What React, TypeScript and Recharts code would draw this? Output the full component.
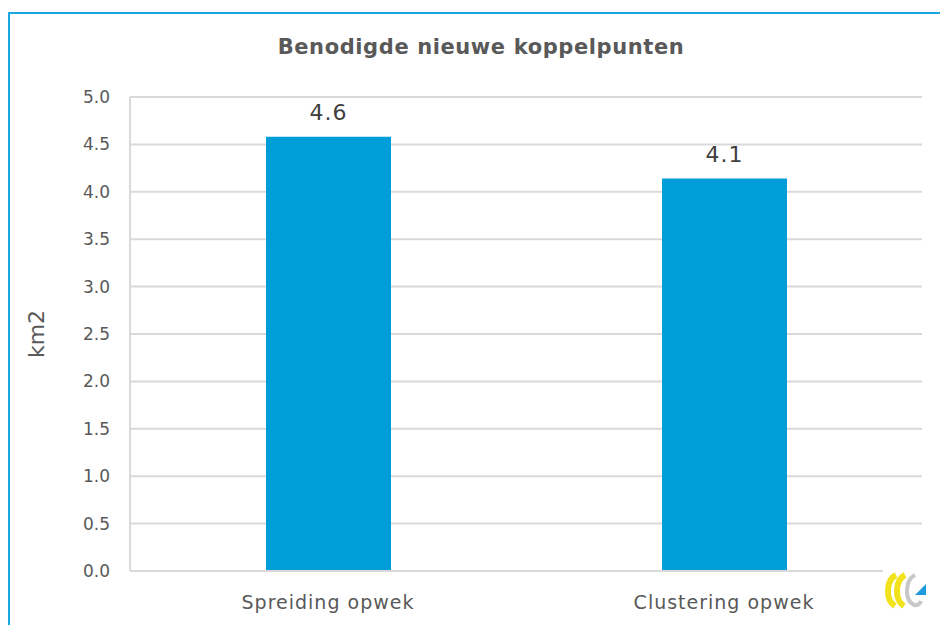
import React from "react";
import {
  Bar,
  BarChart,
  CartesianGrid,
  LabelList,
  XAxis,
  YAxis,
} from "recharts";

const categories = ["Spreiding opwek", "Clustering opwek"];
const values = [4.58, 4.14];
const yTicks = [0, 0.5, 1, 1.5, 2, 2.5, 3, 3.5, 4, 4.5, 5];

const data = categories.map((name, i) => ({ name, value: values[i] }));

const FONT = "'DejaVu Sans', Verdana, sans-serif";
const TEXT = "#595959";
const GRID = "#d9d9d9";

function Logo() {
  return (
    <svg
      width={57}
      height={65}
      style={{ position: "absolute", left: 883, top: 560, background: "#fff" }}
    >
      <g transform="translate(0,12)">
        <path d="M13 3 C3 8 2 28 12 34" stroke="#f2e21c" strokeWidth={6} fill="none" />
        <path d="M22 3 C12 8 11 28 21 34" stroke="#f2e21c" strokeWidth={6} fill="none" />
        <path d="M32 3 C22 8 21 28 31 33 C34 34 37 32 38 29" stroke="#c8c8c8" strokeWidth={4} fill="none" />
        <polygon points="32,23 43,12 43,23" fill="#1e9be0" />
      </g>
    </svg>
  );
}

export default function App() {
  return (
    <div
      style={{
        position: "absolute",
        left: 0,
        top: 0,
        width: 940,
        height: 625,
        background: "#fff",
        overflow: "hidden",
        fontFamily: FONT,
      }}
    >
      <div
        style={{
          position: "absolute",
          left: 8,
          top: 12,
          width: 960,
          height: 640,
          borderLeft: "2px solid #1aa7e0",
          borderTop: "2px solid #1aa7e0",
        }}
      />
      <div
        style={{
          position: "absolute",
          left: 0,
          top: 35,
          width: 962,
          textAlign: "center",
          fontSize: 21,
          fontWeight: 700,
          color: TEXT,
          letterSpacing: 0.6,
        }}
      >
        Benodigde nieuwe koppelpunten
      </div>
      <div style={{ position: "absolute", left: 0, top: 0 }}>
        <BarChart
          width={940}
          height={625}
          data={data}
          margin={{ top: 97, right: 18, bottom: 24, left: 60 }}
        >
          <CartesianGrid stroke={GRID} strokeWidth={2} vertical={false} />
          <XAxis
            dataKey="name"
            height={30}
            axisLine={{ stroke: GRID, strokeWidth: 2 }}
            tickLine={false}
            tickSize={0}
            tickMargin={25}
            tick={{ fontSize: 19, fill: TEXT, fontFamily: FONT, letterSpacing: 1 }}
          />
          <YAxis
            domain={[0, 5]}
            ticks={yTicks}
            interval={0}
            width={70}
            axisLine={{ stroke: GRID, strokeWidth: 2 }}
            tickLine={false}
            tickSize={0}
            tickMargin={20}
            tickFormatter={(v: number) => v.toFixed(1)}
            tick={{ fontSize: 17, fill: TEXT, fontFamily: FONT }}
            label={{
              value: "km2",
              angle: -90,
              position: "insideLeft",
              offset: -24,
              style: { fontSize: 22, fill: TEXT, fontFamily: FONT, textAnchor: "middle" },
            }}
          />
          <YAxis
            yAxisId="right"
            orientation="right"
            domain={[0, 5]}
            width={0}
            tick={false}
            tickLine={false}
            axisLine={{ stroke: GRID, strokeWidth: 2 }}
          />
          <Bar dataKey="value" fill="#009ed8" barSize={125} isAnimationActive={false}>
            <LabelList
              dataKey="value"
              position="top"
              offset={17}
              formatter={(v: number) => v.toFixed(1)}
              style={{ fontSize: 22, fill: "#404040", fontFamily: FONT, letterSpacing: 1 }}
            />
          </Bar>
        </BarChart>
      </div>
      <Logo />
    </div>
  );
}
